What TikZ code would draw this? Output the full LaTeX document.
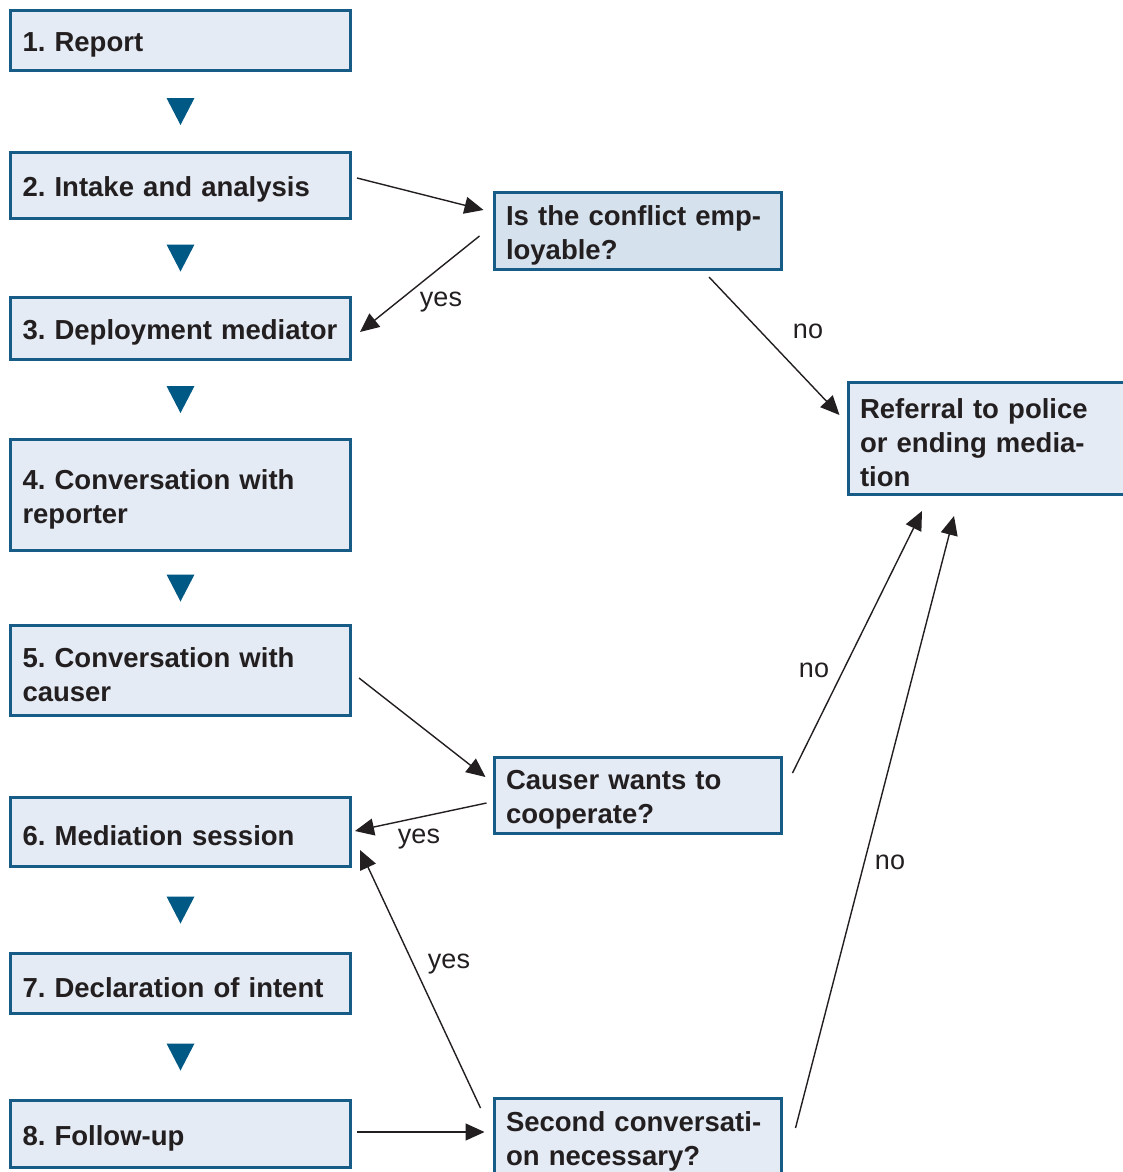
\documentclass[tikz,border=0pt]{standalone}
\usepackage{fontspec}
\setmainfont{Liberation Sans}
\usepackage{tikz}
\usetikzlibrary{arrows.meta,positioning,calc}
\definecolor{edgeblue}{RGB}{22,92,135}
\definecolor{triblue}{RGB}{0,88,132}
\definecolor{boxfill}{RGB}{228,235,244}
\definecolor{qfill}{RGB}{213,225,237}
\definecolor{txt}{RGB}{35,31,32}
\frenchspacing
\tikzset{
  box/.style={draw=edgeblue,line width=3pt,fill=#1,minimum width=340pt,text width=316pt,inner xsep=12pt,align=left,text=txt,font=\fontsize{27.5}{34}\selectfont\bfseries,execute at begin node={\rule{0pt}{28pt}}},
  box/.default={boxfill},
  qbox/.style={box=#1,minimum width=287pt,text width=263pt},
  qbox/.default={boxfill},
  arr/.style={-{Triangle[length=19pt,width=17pt]},line width=1.4pt,txt},
  lbl/.style={text=txt,font=\fontsize{27}{30}\selectfont},
  tri/.style={fill=triblue},
}
\begin{document}
\begin{tikzpicture}[x=1pt,y=-1pt]
 \clip (0,0) rectangle (1123,1172);
 \fill[white] (0,0) rectangle (1123,1172);
 % steps on the left
 \node[box,minimum height=60pt] (b1) at (180.5,40.5){1. Report};
 \node[box,minimum height=66pt] (b2) at (180.5,185.5){2. Intake and analysis};
 \node[box,minimum height=62pt] (b3) at (180.5,328.5){3. Deployment mediator};
 \node[box,minimum height=111pt] (b4) at (180.5,495){4. Conversation with\\reporter};
 \node[box,minimum height=90pt] (b5) at (180.5,670.5){5. Conversation with\\causer};
 \node[box,minimum height=69pt] (b6) at (180.5,832){6. Mediation session};
 \node[box,minimum height=60pt] (b7) at (180.5,983.5){7. Declaration of intent};
 \node[box,minimum height=67pt] (b8) at (180.5,1134){8. Follow-up};
 % questions and outcome
 \node[qbox=qfill,minimum height=77pt] (q1) at (637.5,231){Is the conflict emp-\\loyable?};
 \node[qbox,minimum height=76pt] (q2) at (637.5,795.5){Causer wants to\\cooperate?};
 \node[qbox,minimum height=77pt] (q3) at (637.5,1137){Second conversati-\\on necessary?};
 \node[qbox,minimum height=112pt] (ref) at (991.5,438.5){Referral to police\\or ending media-\\tion};
 % down triangles
 \foreach \a/\b in {b1/b2,b2/b3,b3/b4,b4/b5,b6/b7,b7/b8}
  \fill[tri] ($(\a.south)!.5!(\b.north)$) +(-14,-13.5) -- +(14,-13.5) -- +(0,13.5) -- cycle;
 % connectors
 \draw[arr] ($(b2.east)+(5,-7.5)$) -- ($(q1.west)+(-9,-21)$);
 \draw[arr] ($(q1.west)+(-13,5)$) -- ($(b3.east)+(8,3.5)$);
 \draw[arr] ($(q1.south)+(71.5,6)$) -- ($(ref.west)+(-7,-23.5)$);
 \draw[arr] ($(b5.east)+(7,7.5)$) -- ($(q2.west)+(-7,-18.5)$);
 \draw[arr] ($(q2.west)+(-6,7.5)$) -- ($(b6.east)+(3,-1)$);
 \draw[arr] ($(q2.east)+(10,-22.5)$) -- ($(ref.south)+(-69.5,15)$);
 \draw[arr] ($(q3.west)+(-12,-29)$) -- ($(b6.east)+(8,18)$);
 \draw[arr] ($(q3.east)+(13,-9)$) -- ($(ref.south)+(-37.5,20)$);
 \draw[arr] ($(b8.east)+(5,-2)$) -- ($(q3.west)+(-8,-5)$);
 \node[lbl] (y1) at (441,302){yes};
 \node[lbl] (n1) at (808,331){no};
 \node[lbl] (y2) at (419,839){yes};
 \node[lbl] (n2) at (814,670){no};
 \node[lbl] (y3) at (449,964){yes};
 \node[lbl] (n3) at (890,862){no};
\end{tikzpicture}
\end{document}
